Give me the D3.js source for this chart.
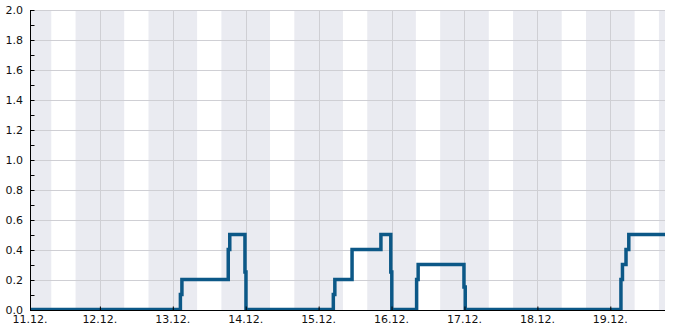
<!DOCTYPE html>
<html>
<head>
<meta charset="utf-8">
<script src="https://cdn.jsdelivr.net/npm/d3@7"></script>
<style>
  body { margin: 0; background: #fff; }
  svg { display: block; font-family: "DejaVu Sans", sans-serif; }
</style>
</head>
<body>
<svg width="685" height="330"></svg>
<script>
// step series: time of change -> new value
var stepTimes = [
  "2023-12-11T01:00", "2023-12-13T02:30", "2023-12-13T03:00", "2023-12-13T18:15",
  "2023-12-13T18:45", "2023-12-13T23:45", "2023-12-14T00:05", "2023-12-15T04:50",
  "2023-12-15T05:20", "2023-12-15T11:00", "2023-12-15T20:30", "2023-12-15T23:45",
  "2023-12-16T00:05", "2023-12-16T08:15", "2023-12-16T08:45", "2023-12-16T23:50",
  "2023-12-17T00:15", "2023-12-19T03:30", "2023-12-19T04:00", "2023-12-19T05:10",
  "2023-12-19T06:05", "2023-12-19T18:00"
]
var stepValues = [
  0, 0.1, 0.2, 0.4,
  0.5, 0.25, 0, 0.1,
  0.2, 0.4, 0.5, 0.25,
  0, 0.2, 0.3, 0.15,
  0, 0.2, 0.3, 0.4,
  0.5, 0.5
]
var dayTicks = ["2023-12-11T01:00", "2023-12-12", "2023-12-13", "2023-12-14", "2023-12-15",
                "2023-12-16", "2023-12-17", "2023-12-18", "2023-12-19"]
var yTicks = [0, 0.2, 0.4, 0.6, 0.8, 1.0, 1.2, 1.4, 1.6, 1.8, 2.0]
// night shading (16:00 -> 08:00)
var nightStarts = ["2023-12-10T16:00", "2023-12-11T16:00", "2023-12-12T16:00", "2023-12-13T16:00",
                   "2023-12-14T16:00", "2023-12-15T16:00", "2023-12-16T16:00", "2023-12-17T16:00",
                   "2023-12-18T16:00", "2023-12-19T16:00"]

var parse = function (s) { return s.length > 10 ? d3.timeParse("%Y-%m-%dT%H:%M")(s) : d3.timeParse("%Y-%m-%d")(s) }

var margin = {left: 30, right: 20, top: 10, bottom: 20}
var width = 685, height = 330
var svg = d3.select("svg")

var x = d3.scaleTime()
  .domain([parse(stepTimes[0]), parse(stepTimes[stepTimes.length - 1])])
  .range([margin.left, width - margin.right])
var y = d3.scaleLinear()
  .domain([0, 2])
  .range([height - margin.bottom, margin.top])

svg.append("clipPath").attr("id", "plot")
  .append("rect")
    .attr("x", margin.left)
    .attr("y", margin.top)
    .attr("width", width - margin.left - margin.right)
    .attr("height", height - margin.top - margin.bottom)

var plot = svg.append("g").attr("clip-path", "url(#plot)")

plot.selectAll("rect.night")
  .data(nightStarts.map(parse))
  .enter()
  .append("rect")
    .attr("class", "night")
    .attr("x", function (d) { return x(d) })
    .attr("y", margin.top)
    .attr("width", function (d) { return x(d3.timeHour.offset(d, 16)) - x(d) })
    .attr("height", height - margin.top - margin.bottom)
    .attr("fill", "#eaebf1")

// grid
plot.selectAll("line.hgrid")
  .data(yTicks)
  .enter()
  .append("line")
    .attr("x1", margin.left)
    .attr("x2", width - margin.right)
    .attr("y1", function (d) { return Math.round(y(d)) + 0.5 })
    .attr("y2", function (d) { return Math.round(y(d)) + 0.5 })
    .attr("stroke", "#cfcfd4")
plot.selectAll("line.vgrid")
  .data(dayTicks.slice(1).map(parse))
  .enter()
  .append("line")
    .attr("x1", function (d) { return Math.round(x(d)) + 0.5 })
    .attr("x2", function (d) { return Math.round(x(d)) + 0.5 })
    .attr("y1", margin.top)
    .attr("y2", height - margin.bottom)
    .attr("stroke", "#cfcfd4")

var points = stepTimes.map(function (t, i) { return [parse(t), stepValues[i]] })
var line = d3.line()
  .x(function (d) { return x(d[0]) })
  .y(function (d) { return y(d[1]) - 0.5 })
  .curve(d3.curveStepAfter)

plot.append("path")
  .datum(points)
  .attr("d", line)
  .attr("fill", "none")
  .attr("stroke", "#0c5887")
  .attr("stroke-width", 3.5)

// axes
var yAxis = svg.append("g")
  .attr("transform", "translate(" + (margin.left + 0.5) + ",0)")
  .call(d3.axisRight(y).tickValues(d3.range(0, 2.01, 0.1)).tickSize(4).tickFormat(""))
yAxis.select(".domain").attr("d", "M0," + margin.top + "V" + (height - margin.bottom))
yAxis.selectAll("line").attr("stroke", "#000")

svg.selectAll("text.ylab")
  .data(yTicks)
  .enter()
  .append("text")
    .attr("class", "ylab")
    .attr("x", margin.left - 7)
    .attr("y", function (d) { return y(d) })
    .attr("dy", "0.35em")
    .attr("text-anchor", "end")
    .attr("font-size", 11)
    .attr("fill", "#111")
    .text(d3.format(".1f"))

var xAxis = svg.append("g")
  .attr("transform", "translate(0," + (height - margin.bottom + 0.5) + ")")
  .call(d3.axisTop(x).tickValues(dayTicks.map(parse)).tickSize(4).tickFormat(""))
xAxis.select(".domain").attr("d", "M" + margin.left + ",0H" + (width - margin.right))
xAxis.selectAll("line").attr("stroke", "#000")

svg.selectAll("text.xlab")
  .data(dayTicks.map(parse))
  .enter()
  .append("text")
    .attr("class", "xlab")
    .attr("x", function (d) { return x(d) })
    .attr("y", height - margin.bottom + 13)
    .attr("text-anchor", "middle")
    .attr("font-size", 11)
    .attr("fill", "#111")
    .text(d3.timeFormat("%d.%m."))
</script>
</body>
</html>
